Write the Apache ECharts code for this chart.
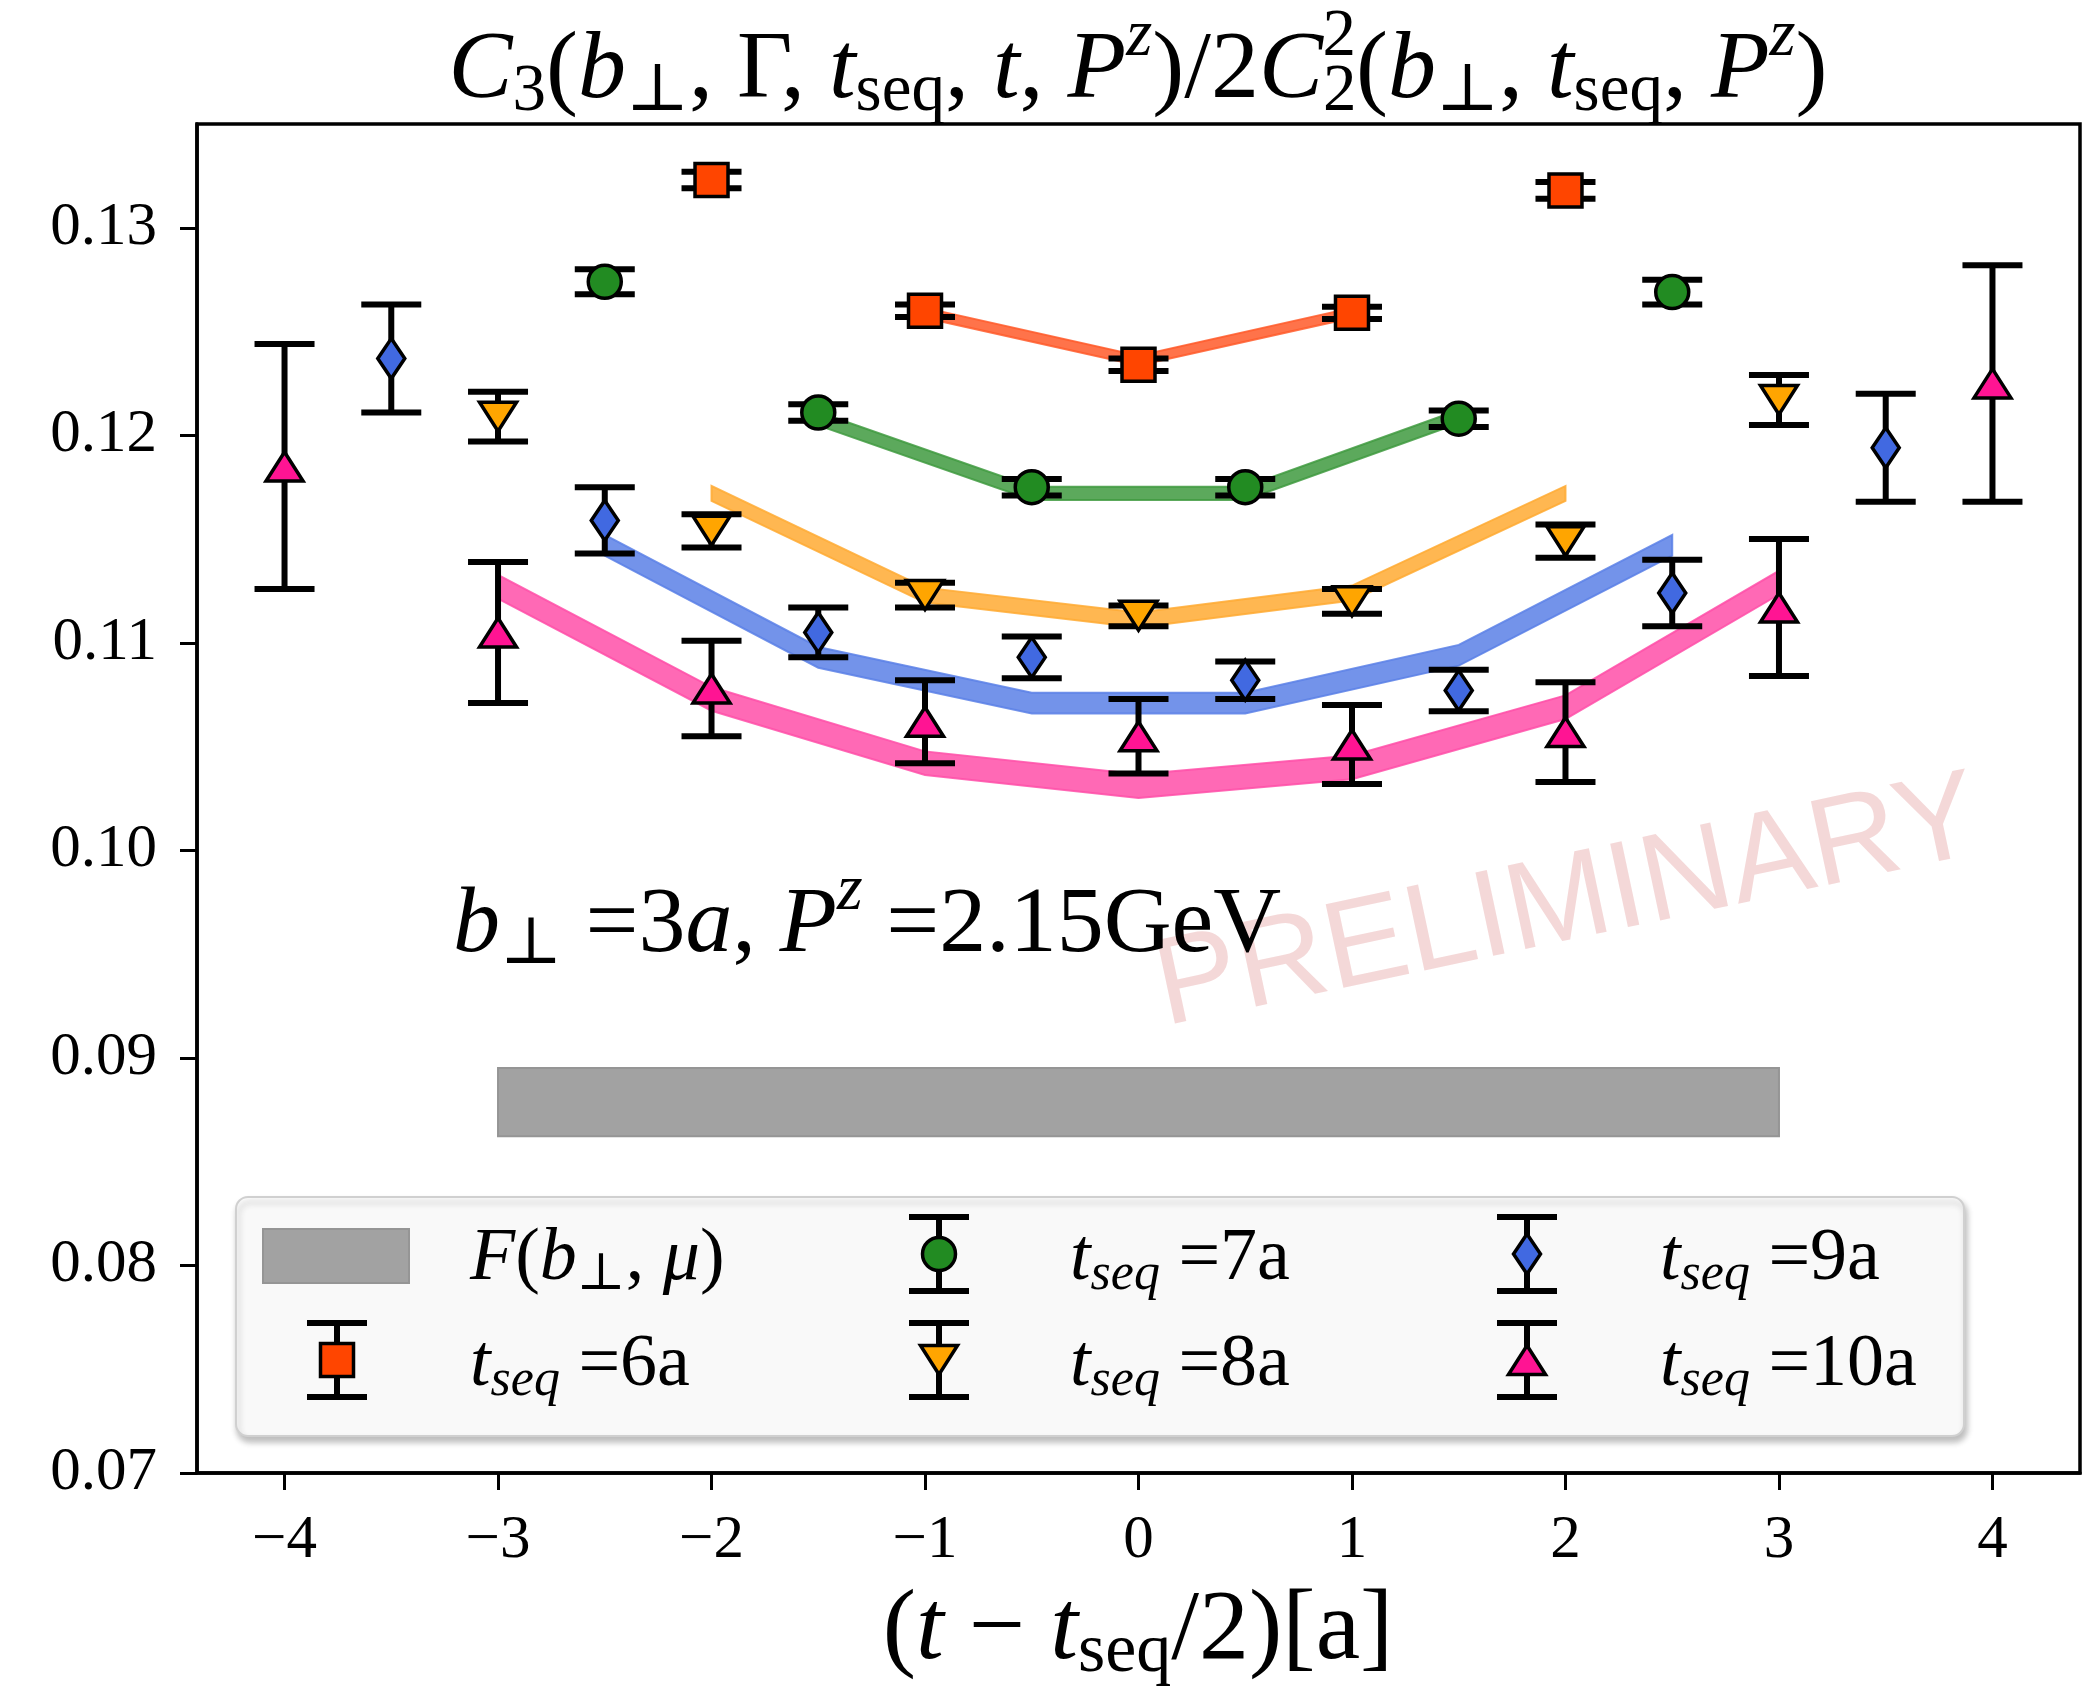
<!DOCTYPE html>
<html>
<head>
<meta charset="utf-8">
<script src="https://cdn.jsdelivr.net/npm/echarts@6/dist/echarts.min.js"></script>
<style>
  html, body { margin: 0; padding: 0; background: #fff; }
  #chart { width: 2091px; height: 1690px; }
</style>
</head>
<body>
<div id="chart"></div>
<script>
// ---- axis ticks ----
const xTicks = [-4, -3, -2, -1, 0, 1, 2, 3, 4];
const yTicks = [0.07, 0.08, 0.09, 0.10, 0.11, 0.12, 0.13];

// ---- ratio data points, one set per source-sink separation ----
const t6X = [-2, -1, 0, 1, 2];
const t6Y = [0.1323, 0.1260, 0.1234, 0.1259, 0.1318];
const t6Err = [0.0004, 0.0003, 0.0003, 0.0003, 0.0004];

const t7X = [-2.5, -1.5, -0.5, 0.5, 1.5, 2.5];
const t7Y = [0.1274, 0.1211, 0.1175, 0.1175, 0.1208, 0.1269];
const t7Err = [0.0006, 0.0004, 0.0004, 0.0004, 0.0004, 0.0006];

const t8X = [-3, -2, -1, 0, 1, 2, 3];
const t8Y = [0.1209, 0.1154, 0.1123, 0.1113, 0.1120, 0.1149, 0.1217];
const t8Err = [0.0012, 0.0008, 0.0006, 0.0005, 0.0006, 0.0008, 0.0012];

const t9X = [-3.5, -2.5, -1.5, -0.5, 0.5, 1.5, 2.5, 3.5];
const t9Y = [0.1237, 0.1159, 0.1105, 0.1093, 0.1082, 0.1077, 0.1124, 0.1194];
const t9Err = [0.0026, 0.0016, 0.0012, 0.0010, 0.0009, 0.0010, 0.0016, 0.0026];

const t10X = [-4, -3, -2, -1, 0, 1, 2, 3, 4];
const t10Y = [0.1185, 0.1105, 0.1078, 0.1062, 0.1055, 0.1051, 0.1057, 0.1117, 0.1225];
const t10Err = [0.0059, 0.0034, 0.0023, 0.0020, 0.0018, 0.0019, 0.0024, 0.0033, 0.0057];

// ---- fit bands: central value and half width ----
const fit6X = [-1, 0, 1];
const fit6Y = [0.1259, 0.1236, 0.1259];
const fit6Err = [0.00024, 0.00024, 0.00024];

const fit7X = [-1.5, -0.5, 0.5, 1.5];
const fit7Y = [0.1208, 0.1172, 0.1172, 0.1209];
const fit7Err = [0.00032, 0.00032, 0.00032, 0.00032];

const fit8X = [-2, -1, 0, 1, 2];
const fit8Y = [0.1172, 0.1123, 0.1111, 0.1124, 0.1172];
const fit8Err = [0.00036, 0.00036, 0.00036, 0.00036, 0.00036];

const fit9X = [-2.5, -1.5, -0.5, 0.5, 1.5, 2.5];
const fit9Y = [0.1147, 0.1093, 0.1071, 0.1071, 0.1094, 0.1147];
const fit9Err = [0.0005, 0.0005, 0.0005, 0.0005, 0.0005, 0.0005];

const fit10X = [-3, -2, -1, 0, 1, 2, 3];
const fit10Y = [0.1127, 0.1073, 0.1042, 0.1031, 0.1040, 0.1069, 0.1129];
const fit10Err = [0.00057, 0.00057, 0.00057, 0.00057, 0.00057, 0.00057, 0.00057];

// ---- extracted F(b_perp, mu) ----
const fX = [-3, 3];
const fY = [0.08787, 0.08787];
const fErr = [0.00164, 0.00164];

// ---- styling ----
const SERIF = "'Liberation Serif', 'DejaVu Serif', serif";
const COLORS = { t6: '#FF4500', t7: '#228B22', t8: '#FFA500', t9: '#4169E1', t10: '#FF1493' };
const BAND_COLORS = { t6: '#FF5A2A', t7: '#3F9A3F', t8: '#FFAA33', t9: '#5B80E6', t10: '#FF4FA8' };
const CAP = 30;        // half width of error-bar caps, px
const BAR_W = 6;       // error-bar line width, px

function markerShape(kind, cx, cy, color) {
  const st = { fill: color, stroke: '#000', lineWidth: 3.5, lineJoin: 'miter' };
  if (kind === 'square') {
    return { type: 'rect', shape: { x: cx - 16.5, y: cy - 16.5, width: 33, height: 33 }, style: st };
  }
  if (kind === 'circle') {
    return { type: 'circle', shape: { cx: cx, cy: cy, r: 16.5 }, style: st };
  }
  if (kind === 'diamond') {
    return { type: 'polygon', shape: { points: [[cx, cy - 20], [cx + 13.5, cy], [cx, cy + 20], [cx - 13.5, cy]] }, style: st };
  }
  if (kind === 'triUp') {
    return { type: 'polygon', shape: { points: [[cx, cy - 14.5], [cx + 18.5, cy + 14.5], [cx - 18.5, cy + 14.5]] }, style: st };
  }
  // triangle pointing down
  return { type: 'polygon', shape: { points: [[cx - 18.5, cy - 14.5], [cx + 18.5, cy - 14.5], [cx, cy + 14.5]] }, style: st };
}

function errorBarGroup(cx, yTop, yBot, cy, kind, color) {
  const ls = { stroke: '#000', lineWidth: BAR_W };
  return [
    { type: 'line', shape: { x1: cx, y1: yTop, x2: cx, y2: yBot }, style: ls },
    { type: 'line', shape: { x1: cx - CAP, y1: yTop, x2: cx + CAP, y2: yTop }, style: ls },
    { type: 'line', shape: { x1: cx - CAP, y1: yBot, x2: cx + CAP, y2: yBot }, style: ls },
    markerShape(kind, cx, cy, color)
  ];
}

function errorSeries(name, xs, ys, es, kind, color, z) {
  const data = xs.map((x, i) => [x, ys[i], es[i]]);
  return {
    type: 'custom', name: name, z: z, data: data, encode: { x: 0, y: 1 },
    renderItem: function (params, api) {
      const x = api.value(0), y = api.value(1), e = api.value(2);
      const c = api.coord([x, y]);
      const t = api.coord([x, y + e]);
      const b = api.coord([x, y - e]);
      return { type: 'group', children: errorBarGroup(c[0], t[1], b[1], c[1], kind, color) };
    }
  };
}

function bandSeries(xs, ys, es, color, opacity, z, edge) {
  const data = xs.map((x, i) => [x, ys[i], es[i]]);
  return {
    type: 'custom', z: z, silent: true, data: data, encode: { x: 0, y: 1 },
    renderItem: function (params, api) {
      if (params.dataIndex !== 0) return null;
      const upper = data.map(d => api.coord([d[0], d[1] + d[2]]));
      const lower = data.map(d => api.coord([d[0], d[1] - d[2]])).reverse();
      return {
        type: 'polygon',
        shape: { points: upper.concat(lower) },
        style: { fill: color, stroke: edge || color, lineWidth: 2, opacity: opacity }
      };
    }
  };
}

// rich-text styles imitating math typesetting
function mathRich(size) {
  const s = Math.round(size * 0.7);
  const lh = Math.round(size * 1.8);
  const base = { fontFamily: SERIF, color: '#000', lineHeight: lh };
  return {
    r: Object.assign({}, base, { fontSize: size }),
    i: Object.assign({}, base, { fontSize: size, fontStyle: 'italic' }),
    sub: Object.assign({}, base, { fontSize: s, padding: [Math.round(size * 0.42), 0, 0, 0] }),
    isub: Object.assign({}, base, { fontSize: s, fontStyle: 'italic', padding: [Math.round(size * 0.42), 0, 0, 0] }),
    sup: Object.assign({}, base, { fontSize: s, padding: [0, 0, Math.round(size * 0.72), 0] }),
    isup: Object.assign({}, base, { fontSize: s, fontStyle: 'italic', padding: [0, 0, Math.round(size * 0.72), 0] }),
    supo: Object.assign({}, base, { fontSize: s, padding: [0, 0, Math.round(size * 0.72), -Math.round(s * 0.5)] })
  };
}

const titleText = '{i|C}{sub|3}{r|(}{i|b}{sub|⊥}{r|, Γ, }{i|t}{sub|seq}{r|, }{i|t}{r|, }{i|P}{isup|z}{r|)/2}{i|C}{sub|2}{supo|2}{r|(}{i|b}{sub|⊥}{r|, }{i|t}{sub|seq}{r|, }{i|P}{isup|z}{r|)}';
const xNameText = '{r|(}{i|t}{r| − }{i|t}{sub|seq}{r|/2)[a]}';
const noteText = '{i|b}{sub|⊥}{r| =3}{i|a}{r|, }{i|P}{isup|z}{r| =2.15GeV}';
const legendF = '{i|F}{r|(}{i|b}{sub|⊥}{r|, }{i|μ}{r|)}';
const legendT = n => '{i|t}{isub|seq}{r| =' + n + 'a}';

// ---- legend (built from graphic elements) ----
const LEG = { x: 236, y: 1197, w: 1728, h: 239, rows: [1254, 1360], cols: [337, 939, 1527], text: [470, 1070, 1660] };
const legendItems = [
  { col: 1, row: 0, kind: 'circle', color: COLORS.t7, label: legendT(7) },
  { col: 2, row: 0, kind: 'diamond', color: COLORS.t9, label: legendT(9) },
  { col: 0, row: 1, kind: 'square', color: COLORS.t6, label: legendT(6) },
  { col: 1, row: 1, kind: 'triDown', color: COLORS.t8, label: legendT(8) },
  { col: 2, row: 1, kind: 'triUp', color: COLORS.t10, label: legendT(10) }
];
const legendRich = mathRich(74);
const legendChildren = [
  { type: 'rect', shape: { x: LEG.x, y: LEG.y, width: LEG.w, height: LEG.h, r: 12 },
    style: { fill: 'rgba(255,255,255,0.9)', stroke: '#d0d0d0', lineWidth: 2,
             shadowBlur: 6, shadowOffsetX: 2, shadowOffsetY: 5, shadowColor: 'rgba(0,0,0,0.28)' } },
  { type: 'rect', shape: { x: 263, y: 1229, width: 146, height: 54 },
    style: { fill: '#a2a2a2', stroke: '#959595', lineWidth: 2 } },
  { type: 'text', x: LEG.text[0], y: LEG.rows[0] + 6,
    style: { text: legendF, rich: legendRich, align: 'left', verticalAlign: 'middle' } }
];
legendItems.forEach(it => {
  const cx = LEG.cols[it.col], cy = LEG.rows[it.row];
  legendChildren.push({ type: 'group', children: errorBarGroup(cx, cy - 37, cy + 37, cy, it.kind, it.color) });
  legendChildren.push({ type: 'text', x: LEG.text[it.col], y: cy + 6,
    style: { text: it.label, rich: legendRich, align: 'left', verticalAlign: 'middle' } });
});

const chart = echarts.init(document.getElementById('chart'), null, { renderer: 'canvas', width: 2091, height: 1690 });

const option = {
  animation: false,
  backgroundColor: '#fff',
  grid: { left: 197, right: 11, top: 124, bottom: 217, show: true, borderColor: '#000', borderWidth: 3.5, backgroundColor: 'transparent' },
  xAxis: {
    type: 'value', min: -4.41, max: 4.41,
    axisLine: { show: true, onZero: false, lineStyle: { color: '#000', width: 3.5 } },
    axisTick: { show: true, inside: false, length: 17, customValues: xTicks, lineStyle: { color: '#000', width: 3 } },
    axisLabel: { customValues: xTicks, margin: 37, color: '#000', fontFamily: SERIF, fontSize: 61,
                 formatter: v => (v < 0 ? '\u2212' + Math.abs(v) : String(v)) },
    splitLine: { show: false }
  },
  yAxis: {
    type: 'value', min: 0.07, max: 0.135,
    axisLine: { show: true, onZero: false, lineStyle: { color: '#000', width: 3.5 } },
    axisTick: { show: true, inside: false, length: 17, customValues: yTicks, lineStyle: { color: '#000', width: 3 } },
    axisLabel: { customValues: yTicks, margin: 40, color: '#000', fontFamily: SERIF, fontSize: 61,
                 formatter: v => v.toFixed(2) },
    splitLine: { show: false }
  },
  graphic: [
    { type: 'text', z: 1, x: 1568, y: 905, rotation: 12 * Math.PI / 180,
      style: { text: 'PRELIMINARY', fontFamily: "'Liberation Sans', Arial, sans-serif", fontSize: 124,
               fill: 'rgba(210, 90, 90, 0.24)', align: 'center', verticalAlign: 'middle' } },
    { type: 'text', z: 10, x: 1138, y: 72,
      style: { text: titleText, rich: mathRich(96), align: 'center', verticalAlign: 'middle' } },
    { type: 'text', z: 10, x: 1138, y: 1632,
      style: { text: xNameText, rich: mathRich(100), align: 'center', verticalAlign: 'middle' } },
    { type: 'text', z: 10, x: 453, y: 926,
      style: { text: noteText, rich: mathRich(94), align: 'left', verticalAlign: 'middle' } },
    { type: 'group', z: 20, children: legendChildren }
  ],
  series: [
    bandSeries(fX, fY, fErr, '#a2a2a2', 1, 1, '#959595'),
    bandSeries(fit10X, fit10Y, fit10Err, BAND_COLORS.t10, 0.85, 2),
    bandSeries(fit9X, fit9Y, fit9Err, BAND_COLORS.t9, 0.85, 2),
    bandSeries(fit8X, fit8Y, fit8Err, BAND_COLORS.t8, 0.85, 2),
    bandSeries(fit7X, fit7Y, fit7Err, BAND_COLORS.t7, 0.85, 2),
    bandSeries(fit6X, fit6Y, fit6Err, BAND_COLORS.t6, 0.85, 2),
    errorSeries('tseq=6a', t6X, t6Y, t6Err, 'square', COLORS.t6, 5),
    errorSeries('tseq=7a', t7X, t7Y, t7Err, 'circle', COLORS.t7, 5),
    errorSeries('tseq=8a', t8X, t8Y, t8Err, 'triDown', COLORS.t8, 5),
    errorSeries('tseq=9a', t9X, t9Y, t9Err, 'diamond', COLORS.t9, 5),
    errorSeries('tseq=10a', t10X, t10Y, t10Err, 'triUp', COLORS.t10, 5)
  ]
};
chart.setOption(option);
</script>
</body>
</html>
